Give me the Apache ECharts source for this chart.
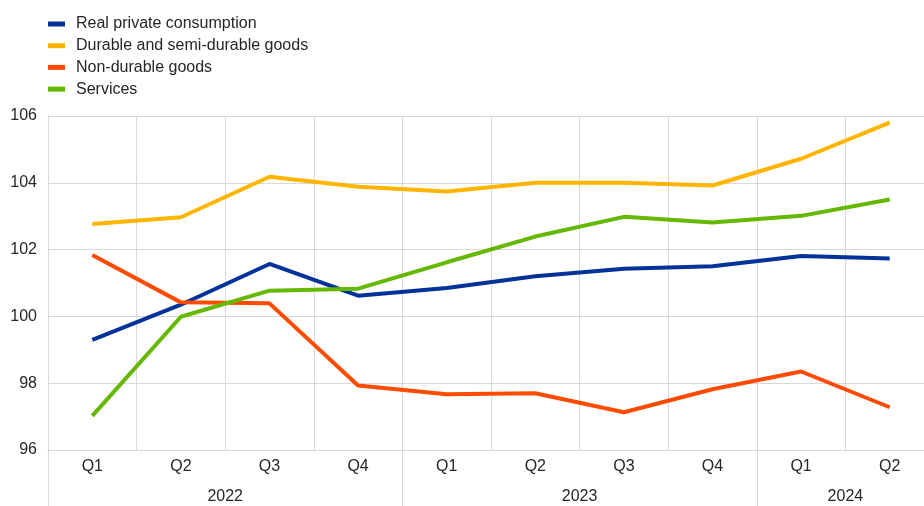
<!DOCTYPE html>
<html>
<head>
<meta charset="utf-8">
<script src="https://cdn.jsdelivr.net/npm/echarts@6/dist/echarts.min.js"></script>
<style>
html,body{margin:0;padding:0;background:#fff;}
#chart{width:924px;height:506px;}
</style>
</head>
<body>
<div id="chart"></div>
<script>
var quarters = ['Q1','Q2','Q3','Q4','Q1','Q2','Q3','Q4','Q1','Q2'];
var years = ['2022','2023','2024'];
var yearSpans = [4,4,2];
var seriesNames = ['Real private consumption','Durable and semi-durable goods','Non-durable goods','Services'];
var realPrivate = [99.3,100.35,101.57,100.62,100.85,101.2,101.43,101.5,101.81,101.73];
var durable = [102.77,102.97,104.18,103.88,103.74,104.0,104.0,103.92,104.72,105.8];
var nonDurable = [101.84,100.42,100.39,97.93,97.67,97.7,97.13,97.82,98.35,97.28];
var services = [97.02,99.99,100.77,100.83,101.62,102.39,102.98,102.81,103.01,103.5];
var yTicks = [96,98,100,102,104,106];

var colors = ['#003299','#FFB400','#FF4B00','#65B800'];
var font = 'Arial, "Liberation Sans", sans-serif';
var gridColor = '#d9d9d9';
var textColor = '#262626';

var bounds = [0], mids = [];
yearSpans.forEach(function(s){ var b = bounds[bounds.length-1]; mids.push(b + s/2); bounds.push(b + s); });
var total = bounds[bounds.length-1];

var chart = echarts.init(document.getElementById('chart'), null, {renderer:'canvas'});
var dataArr = [realPrivate, durable, nonDurable, services];
chart.setOption({
  animation:false,
  color: colors,
  textStyle:{fontFamily:font},
  legend:{
    orient:'vertical', left:48, top:16, itemGap:5.7, padding:0,
    itemWidth:17, itemHeight:5, icon:'rect',
    data: seriesNames,
    textStyle:{fontSize:16, color:textColor, fontFamily:font, lineHeight:16, padding:[0,0,0,6]}
  },
  grid:{left:48, width:886, top:116, height:334, containLabel:false, outerBoundsMode:'none'},
  xAxis:[{
    type:'category', data:quarters, boundaryGap:true,
    axisLine:{show:true, lineStyle:{color:gridColor}},
    axisTick:{show:false},
    splitLine:{show:true, lineStyle:{color:gridColor, width:1}},
    axisLabel:{fontSize:16, color:textColor, margin:9, fontFamily:font, interval:0}
  },{
    type:'value', min:0, max:total, position:'bottom',
    axisLine:{show:false},
    splitLine:{show:false},
    axisTick:{show:true, customValues:bounds, length:56, lineStyle:{color:gridColor}},
    axisLabel:{show:true, customValues:mids, fontSize:16, color:textColor, margin:39, fontFamily:font,
      formatter:function(v){ var i = mids.indexOf(v); return i>=0 ? years[i] : ''; }}
  }],
  yAxis:{
    type:'value', min:yTicks[0], max:yTicks[yTicks.length-1], interval:2,
    axisLine:{show:true, lineStyle:{color:gridColor}},
    axisTick:{show:false},
    splitLine:{show:true, lineStyle:{color:gridColor, width:1}},
    axisLabel:{fontSize:16, color:textColor, margin:11, fontFamily:font}
  },
  series: seriesNames.map(function(n,i){
    return {name:n, type:'line', data:dataArr[i], xAxisIndex:0, symbol:'none', lineStyle:{width:4, color:colors[i]}, itemStyle:{color:colors[i]}};
  })
});
</script>
</body>
</html>
